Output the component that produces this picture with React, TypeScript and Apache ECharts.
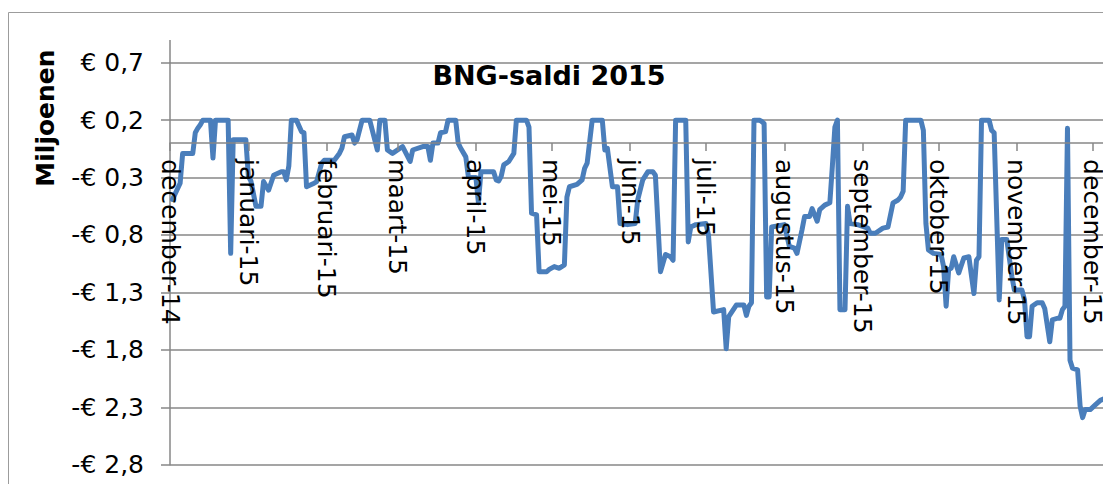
import React, { useEffect, useRef } from "react";
import * as echarts from "echarts";

const title = "BNG-saldi 2015";
const yAxisTitle = "Miljoenen";
const monthNames = ["januari", "februari", "maart", "april", "mei", "juni", "juli", "augustus", "september", "oktober", "november", "december"];
const yMin = -2.8;
const yMax = 0.7;
const yStep = 0.5;
const axisStart = "2014-12-01";
const axisEnd = "2015-12-31";

const dates = [
  "2014-12-02", "2014-12-05", "2014-12-06", "2014-12-10", "2014-12-11", "2014-12-12", "2014-12-13", "2014-12-14",
  "2014-12-17", "2014-12-18", "2014-12-19", "2014-12-24", "2014-12-25", "2014-12-26", "2014-12-31",
  "2015-01-01", "2015-01-02", "2015-01-04", "2015-01-06", "2015-01-07", "2015-01-09", "2015-01-11", "2015-01-14",
  "2015-01-15", "2015-01-16", "2015-01-17", "2015-01-18", "2015-01-20", "2015-01-22", "2015-01-23", "2015-01-24",
  "2015-01-27", "2015-01-28", "2015-01-30", "2015-01-31",
  "2015-02-04", "2015-02-06", "2015-02-07", "2015-02-08", "2015-02-11", "2015-02-12", "2015-02-13", "2015-02-15",
  "2015-02-18", "2015-02-21", "2015-02-22", "2015-02-24", "2015-02-25", "2015-02-27",
  "2015-03-03", "2015-03-06", "2015-03-07", "2015-03-11", "2015-03-13", "2015-03-14", "2015-03-15", "2015-03-17",
  "2015-03-18", "2015-03-20", "2015-03-21", "2015-03-24", "2015-03-25", "2015-03-26", "2015-03-28", "2015-03-29",
  "2015-03-30",
  "2015-04-01", "2015-04-02", "2015-04-03", "2015-04-08", "2015-04-09", "2015-04-10", "2015-04-11", "2015-04-12",
  "2015-04-14", "2015-04-16", "2015-04-17", "2015-04-21", "2015-04-22", "2015-04-23", "2015-04-25", "2015-04-26",
  "2015-04-29", "2015-04-30",
  "2015-05-02", "2015-05-04", "2015-05-06", "2015-05-07", "2015-05-08", "2015-05-11", "2015-05-13", "2015-05-14",
  "2015-05-15", "2015-05-17", "2015-05-21", "2015-05-22", "2015-05-23", "2015-05-25", "2015-05-27", "2015-05-28",
  "2015-05-31",
  "2015-06-03", "2015-06-04", "2015-06-06", "2015-06-08", "2015-06-10", "2015-06-11", "2015-06-13", "2015-06-15",
  "2015-06-17", "2015-06-18", "2015-06-19", "2015-06-23", "2015-06-24", "2015-06-25", "2015-06-27",
  "2015-07-01", "2015-07-02", "2015-07-04", "2015-07-08", "2015-07-09", "2015-07-10", "2015-07-13", "2015-07-16",
  "2015-07-17", "2015-07-18", "2015-07-19", "2015-07-20", "2015-07-22", "2015-07-23", "2015-07-24", "2015-07-25",
  "2015-07-26", "2015-07-27",
  "2015-08-01", "2015-08-03", "2015-08-05", "2015-08-06", "2015-08-08", "2015-08-09", "2015-08-11", "2015-08-12",
  "2015-08-14", "2015-08-15", "2015-08-17", "2015-08-19", "2015-08-20", "2015-08-21", "2015-08-22", "2015-08-23",
  "2015-08-25", "2015-08-26", "2015-08-27", "2015-08-30",
  "2015-09-03", "2015-09-04", "2015-09-06", "2015-09-09", "2015-09-11", "2015-09-13", "2015-09-15", "2015-09-16",
  "2015-09-17", "2015-09-18", "2015-09-24", "2015-09-25", "2015-09-26", "2015-09-27", "2015-09-29",
  "2015-10-02", "2015-10-03", "2015-10-04", "2015-10-05", "2015-10-06", "2015-10-07", "2015-10-09", "2015-10-11",
  "2015-10-13", "2015-10-15", "2015-10-16", "2015-10-17", "2015-10-18", "2015-10-21", "2015-10-22", "2015-10-23",
  "2015-10-25", "2015-10-26", "2015-10-28", "2015-10-30", "2015-10-31",
  "2015-11-03", "2015-11-04", "2015-11-05", "2015-11-06", "2015-11-07", "2015-11-09", "2015-11-11", "2015-11-12",
  "2015-11-14", "2015-11-15", "2015-11-17", "2015-11-18", "2015-11-19", "2015-11-20", "2015-11-21", "2015-11-22",
  "2015-11-23", "2015-11-25", "2015-11-26", "2015-11-27", "2015-11-28", "2015-11-30",
  "2015-12-02", "2015-12-04", "2015-12-06",
];

const balances = [
  -0.49, -0.35, -0.09, -0.09, 0.09, 0.13, 0.16, 0.2,
  0.2, -0.13, 0.2, 0.2, -0.96, 0.03, 0.03,
  -0.29, -0.33, -0.55, -0.55, -0.335, -0.41, -0.28, -0.25,
  -0.25, -0.32, -0.2, 0.2, 0.2, 0.1, 0.09, -0.38,
  -0.35, -0.335, -0.175, -0.15,
  -0.15, -0.09, -0.045, 0.055, 0.07, 0.0, 0.03, 0.2,
  0.2, -0.06, 0.2, 0.2, -0.06, -0.09,
  -0.03, -0.16, -0.06, -0.03, -0.03, -0.15, 0.0, 0.0,
  0.09, 0.1, 0.2, 0.2, 0.0, -0.045, -0.12, -0.29,
  -0.3,
  -0.3, -0.52, -0.25, -0.25, -0.32, -0.33, -0.29, -0.19,
  -0.16, -0.09, 0.2, 0.2, 0.14, -0.61, -0.625, -1.12,
  -1.12, -1.1,
  -1.075, -1.09, -1.06, -0.47, -0.38, -0.36, -0.32, -0.22,
  -0.175, 0.2, 0.2, -0.06, -0.045, -0.38, -0.38, -0.7,
  -0.71,
  -0.7, -0.495, -0.32, -0.25, -0.25, -0.28, -1.12, -0.97,
  -0.99, -1.02, 0.2, 0.2, -0.86, -0.73, -0.71,
  -0.7, -0.8, -1.47, -1.45, -1.79, -1.51, -1.41, -1.41,
  -1.5, -1.42, -1.39, 0.2, 0.2, 0.19, 0.17, -1.34,
  -1.34, -0.73,
  -0.71, -0.9, -0.915, -0.96, -0.755, -0.64, -0.64, -0.57,
  -0.68, -0.58, -0.54, -0.52, -0.2, 0.14, 0.2, -1.45,
  -1.45, -0.55, -0.7, -0.71,
  -0.74, -0.785, -0.785, -0.74, -0.73, -0.52, -0.495, -0.47,
  -0.42, 0.2, 0.2, 0.11, -0.7, -0.93, -0.96,
  -0.97, -1.075, -1.42, -1.1, -1.09, -0.99, -1.13, -1.0,
  -0.99, -1.31, -1.02, -0.99, 0.2, 0.2, 0.11, 0.09,
  -1.365, -0.84, -0.84, -1.16, -1.28,
  -1.28, -1.365, -1.685, -1.685, -1.42, -1.39, -1.39, -1.44,
  -1.73, -1.54, -1.525, -1.525, -1.45, -1.42, 0.13, -1.89,
  -1.96, -1.975, -2.29, -2.39, -2.32, -2.32,
  -2.28, -2.24, -2.22,
];

const toUTC = (s: string) => {
  const [y, m, d] = s.split("-").map(Number);
  return Date.UTC(y, m - 1, d);
};

const fmtEuro = (v: number) => {
  const r = Math.round(v * 10) / 10;
  const abs = Math.abs(r).toFixed(1).replace(".", ",");
  return (r < 0 ? "-" : "") + "€ " + abs;
};

const FONT = "'DejaVu Sans', Verdana, sans-serif";
const GRID = "#878787";
const GRID_TOP = 62.7;
const GRID_BOTTOM = 19.3;
const PLOT_H = 484 - GRID_TOP - GRID_BOTTOM;
// distance from the bottom of the plot to the value 0 (where the category axis crosses)
const ZERO_OFFSET = (PLOT_H * (0 - yMin)) / (yMax - yMin);

export default function App() {
  const ref = useRef<HTMLDivElement>(null);
  useEffect(() => {
    if (!ref.current) return;
    const chart = echarts.init(ref.current, undefined, { renderer: "svg" });
    const data = dates.map((d, i) => [toUTC(d), balances[i]]);
    chart.setOption({
      animation: false,
      useUTC: true,
      backgroundColor: "#ffffff",
      grid: {
        left: 170,
        top: GRID_TOP,
        bottom: GRID_BOTTOM,
        right: -65.6,
        containLabel: false,
        outerBoundsMode: "none",
      },
      graphic: [
        {
          type: "rect",
          shape: { x: 8.5, y: 12.5, width: 1400, height: 700 },
          style: { fill: "none", stroke: "#9c9c9c", lineWidth: 1 },
          silent: true,
          z: -10,
        },
        {
          type: "line",
          shape: { x1: 170, y1: 40, x2: 170, y2: 63 },
          style: { stroke: GRID, lineWidth: 1.5 },
          silent: true,
        },
        {
          type: "text",
          x: 549,
          y: 75,
          style: {
            text: title,
            fontFamily: FONT,
            fontSize: 27,
            fontWeight: "bold",
            fill: "#000",
            textAlign: "center",
            textVerticalAlign: "middle",
            align: "center",
            verticalAlign: "middle",
          },
          z: 100,
        },
        {
          type: "text",
          x: 45,
          y: 118,
          rotation: Math.PI / 2,
          style: {
            text: yAxisTitle,
            fontFamily: FONT,
            fontSize: 25,
            fontWeight: "bold",
            fill: "#000",
            textAlign: "center",
            textVerticalAlign: "middle",
            align: "center",
            verticalAlign: "middle",
          },
          z: 100,
        },
      ],
      xAxis: {
        type: "time",
        min: toUTC(axisStart),
        max: toUTC(axisEnd),
        splitNumber: 13,
        minInterval: 30 * 86400000,
        maxInterval: 30 * 86400000,
        position: "bottom",
        offset: -ZERO_OFFSET,
        z: 10,
        axisLine: { show: true, onZero: false, lineStyle: { color: GRID, width: 1.5 } },
        axisTick: { show: true, length: 8, lineStyle: { color: GRID, width: 1.5 } },
        splitLine: { show: false },
        axisLabel: {
          rotate: -90,
          margin: 16,
          fontSize: 25,
          fontFamily: FONT,
          color: "#000",
          hideOverlap: false,
          formatter: (value: number) => {
            const d = new Date(value);
            return monthNames[d.getUTCMonth()] + "-" + String(d.getUTCFullYear()).slice(2);
          },
        },
      },
      yAxis: {
        type: "value",
        min: yMin,
        max: yMax,
        interval: yStep,
        axisLine: { show: true, onZero: false, lineStyle: { color: GRID, width: 1.5 } },
        axisTick: { show: true, length: 9, lineStyle: { color: GRID, width: 1.5 } },
        splitLine: { show: true, lineStyle: { color: GRID, width: 1.5 } },
        axisLabel: {
          margin: 26,
          fontSize: 25,
          fontFamily: FONT,
          color: "#000",
          formatter: (v: number) => fmtEuro(v),
        },
      },
      series: [
        {
          type: "line",
          data,
          showSymbol: false,
          symbol: "none",
          lineStyle: { color: "#4a7ebb", width: 5, join: "round", cap: "round" },
          z: 5,
        },
      ],
    });
    return () => chart.dispose();
  }, []);
  return (
    <div
      ref={ref}
      style={{ position: "absolute", left: 0, top: 0, width: 1103, height: 484, background: "#fff" }}
    />
  );
}
